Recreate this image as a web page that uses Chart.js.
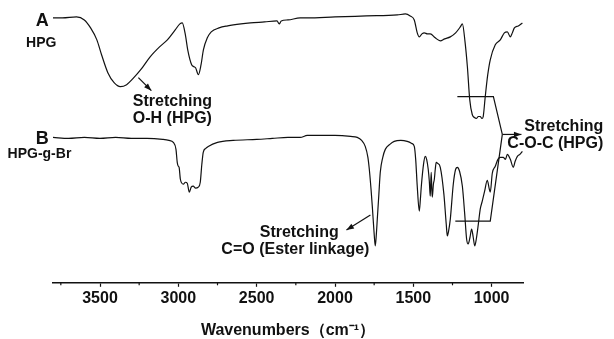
<!DOCTYPE html>
<html>
<head>
<meta charset="utf-8">
<script src="https://cdn.jsdelivr.net/npm/chart.js@4.4.1/dist/chart.umd.min.js"></script>
<style>
  html, body { margin: 0; padding: 0; background: #fff; }
  #wrap { width: 614px; height: 339px; }
</style>
</head>
<body>
<div id="wrap"><canvas id="ftir"></canvas></div>
<script>
// FTIR spectra, transmittance in arbitrary units (curves offset)
const wavenumbersA = [3800,3740,3650,3600,3560,3520,3490,3450,3410,3370,3330,3290,3240,3180,3120,3070,3020,2990,2975,2955,2940,2915,2900,2890,2872,2855,2840,2815,2790,2740,2685,2600,2540,2450,2370,2356,2343,2300,2222,2176,2000,1800,1602,1551,1520,1494,1475,1462,1445,1430,1410,1392,1360,1328,1300,1264,1230,1200,1187,1170,1155,1140,1124,1110,1098,1085,1073,1062,1054,1041,1025,1009,977,945,919,900,881,868,855,830,804];
const transA = [272,272,273,270,262,250,235,217,207,203,205,211,220,233,243,250,260,266,267,255,240,225,223,222,215,225,240,252,258,262,264,266,267,268,269,266,269,270,272,272,273,274,275,276,274,270,257,253,256,257,256,256,252,249,251,253,257,263,266,248,223,190,175,172,171,173,173,171,173,193,215,230,245,250,257,258,253,257,262,264,267];

const wavenumbersB = [3800,3700,3600,3500,3400,3300,3200,3100,3060,3032,3015,3007,3000,2995,2987,2968,2955,2943,2930,2918,2905,2890,2873,2860,2850,2841,2825,2809,2750,2650,2500,2400,2300,2222,2177,2000,1900,1858,1830,1807,1790,1781,1770,1762,1750,1743,1736,1730,1720,1711,1695,1679,1650,1622,1580,1539,1510,1494,1485,1475,1462,1455,1449,1435,1424,1415,1405,1398,1392,1386,1382,1379,1372,1366,1360,1354,1345,1328,1305,1290,1283,1275,1264,1245,1230,1219,1205,1187,1172,1160,1150,1138,1128,1118,1108,1098,1085,1073,1060,1045,1028,1015,1009,996,977,960,945,926,912,900,881,862,850,836,820,804];
const transB = [152,151,152,151,152,151,151,150,149,147,140,127,123,122,110,105,107,106,97,102,103,101,102,107,125,137,141,143,147,149,150,151,152,152,154,154,153,152,149,143,132,120,100,83,55,43,55,70,95,117,132,140,145,148,149,148,146,143,130,103,78,90,103,125,133,130,120,108,93,117,100,92,105,110,120,127,126,122,95,65,53,58,70,105,120,122,118,103,75,50,45,52,60,52,43,50,65,80,88,98,109,100,97,116,123,130,132,132,130,135,130,122,128,133,135,138];

const majorTicks = [3500,3000,2500,2000,1500,1000];
const minorTicks = [3750,3250,2750,2250,1750,1250];

const FONT = '"Liberation Sans", Arial, sans-serif';

// annotation texts placed in data units (wavenumber, transmittance)
const labels = [
  { text: 'A', wn: 3868, v: 269, size: 18, align: 'center' },
  { text: 'HPG', wn: 3972, v: 247, size: 14, align: 'left' },
  { text: 'B', wn: 3868, v: 150, size: 18, align: 'center' },
  { text: 'HPG-g-Br', wn: 4090, v: 135, size: 14, align: 'left' },
  { text: 'Stretching', wn: 3038, v: 188, size: 16, align: 'center' },
  { text: 'O-H (HPG)', wn: 3038, v: 171, size: 16, align: 'center' },
  { text: 'Stretching', wn: 2228, v: 56, size: 16, align: 'center' },
  { text: 'C=O (Ester linkage)', wn: 2253, v: 39, size: 16, align: 'center' },
  { text: 'Stretching', wn: 792, v: 163, size: 16, align: 'left' },
  { text: 'C-O-C (HPG)', wn: 900, v: 146, size: 16, align: 'left' }
];
const arrows = [
  { from: [3255, 212], to: [3172, 199] },
  { from: [1774, 74], to: [1927, 59] },
  { from: [932, 155], to: [810, 155] }
];
const segments = [
  [[1219, 193], [989, 193], [932, 155]],
  [[1232, 68], [1009, 68], [932, 155]]
];

const annotate = {
  id: 'annotate',
  afterDatasetsDraw(chart) {
    const ctx = chart.ctx, xs = chart.scales.x, ys = chart.scales.y;
    const px = (p) => [xs.getPixelForValue(p[0]), ys.getPixelForValue(p[1])];
    ctx.save();
    ctx.strokeStyle = '#111';
    ctx.fillStyle = '#111';
    ctx.lineWidth = 1.2;

    // minor ticks on the x axis
    const yb = chart.chartArea.bottom;
    minorTicks.forEach(t => {
      const x = xs.getPixelForValue(t);
      ctx.beginPath(); ctx.moveTo(x, yb); ctx.lineTo(x, yb + 2.5); ctx.stroke();
    });

    segments.forEach(seg => {
      ctx.beginPath();
      seg.forEach((p, i) => { const q = px(p); i ? ctx.lineTo(q[0], q[1]) : ctx.moveTo(q[0], q[1]); });
      ctx.stroke();
    });

    arrows.forEach(a => {
      const [x1, y1] = px(a.from), [x2, y2] = px(a.to);
      const ang = Math.atan2(y2 - y1, x2 - x1);
      ctx.beginPath(); ctx.moveTo(x1, y1); ctx.lineTo(x2, y2); ctx.stroke();
      ctx.beginPath();
      ctx.moveTo(x2, y2);
      ctx.lineTo(x2 - 8 * Math.cos(ang - 0.35), y2 - 8 * Math.sin(ang - 0.35));
      ctx.lineTo(x2 - 8 * Math.cos(ang + 0.35), y2 - 8 * Math.sin(ang + 0.35));
      ctx.closePath(); ctx.fill();
    });

    ctx.textBaseline = 'middle';
    labels.forEach(l => {
      const [x, y] = px([l.wn, l.v]);
      ctx.font = 'bold ' + l.size + 'px ' + FONT;
      ctx.textAlign = l.align;
      ctx.fillText(l.text, x, y);
    });
    ctx.restore();
  }
};

const toPoints = (xs, ys) => xs.map((x, i) => ({ x: x, y: ys[i] }));

new Chart(document.getElementById('ftir'), {
  type: 'line',
  data: {
    datasets: [
      { label: 'HPG', data: toPoints(wavenumbersA, transA) },
      { label: 'HPG-g-Br', data: toPoints(wavenumbersB, transB) }
    ]
  },
  options: {
    responsive: true,
    maintainAspectRatio: false,
    animation: false,
    events: [],
    layout: { padding: { left: 53, right: 91, top: 4, bottom: 0 } },
    elements: {
      point: { radius: 0 },
      line: { borderColor: '#111', borderWidth: 1.2, cubicInterpolationMode: 'monotone', fill: false }
    },
    plugins: { legend: { display: false }, tooltip: { enabled: false } },
    scales: {
      x: {
        type: 'linear',
        reverse: true,
        min: 800,
        max: 3800,
        afterBuildTicks: (scale) => { scale.ticks = majorTicks.map(v => ({ value: v })); },
        grid: { drawOnChartArea: false, drawTicks: true, tickLength: 4, tickColor: '#111', tickWidth: 1.2 },
        border: { display: true, color: '#111', width: 1.5 },
        ticks: {
          color: '#111', padding: 2, maxRotation: 0,
          callback: (v) => String(v),
          font: { family: FONT, size: 16, weight: 'bold' }
        },
        title: {
          display: true,
          text: 'Wavenumbers\uFF08cm\u207B\u00B9\uFF09',
          color: '#111',
          padding: { top: 13, bottom: 0 },
          font: { family: FONT, size: 16, weight: 'bold', lineHeight: 1 }
        }
      },
      y: { display: false, min: 6, max: 286 }
    }
  },
  plugins: [annotate]
});
</script>
</body>
</html>
